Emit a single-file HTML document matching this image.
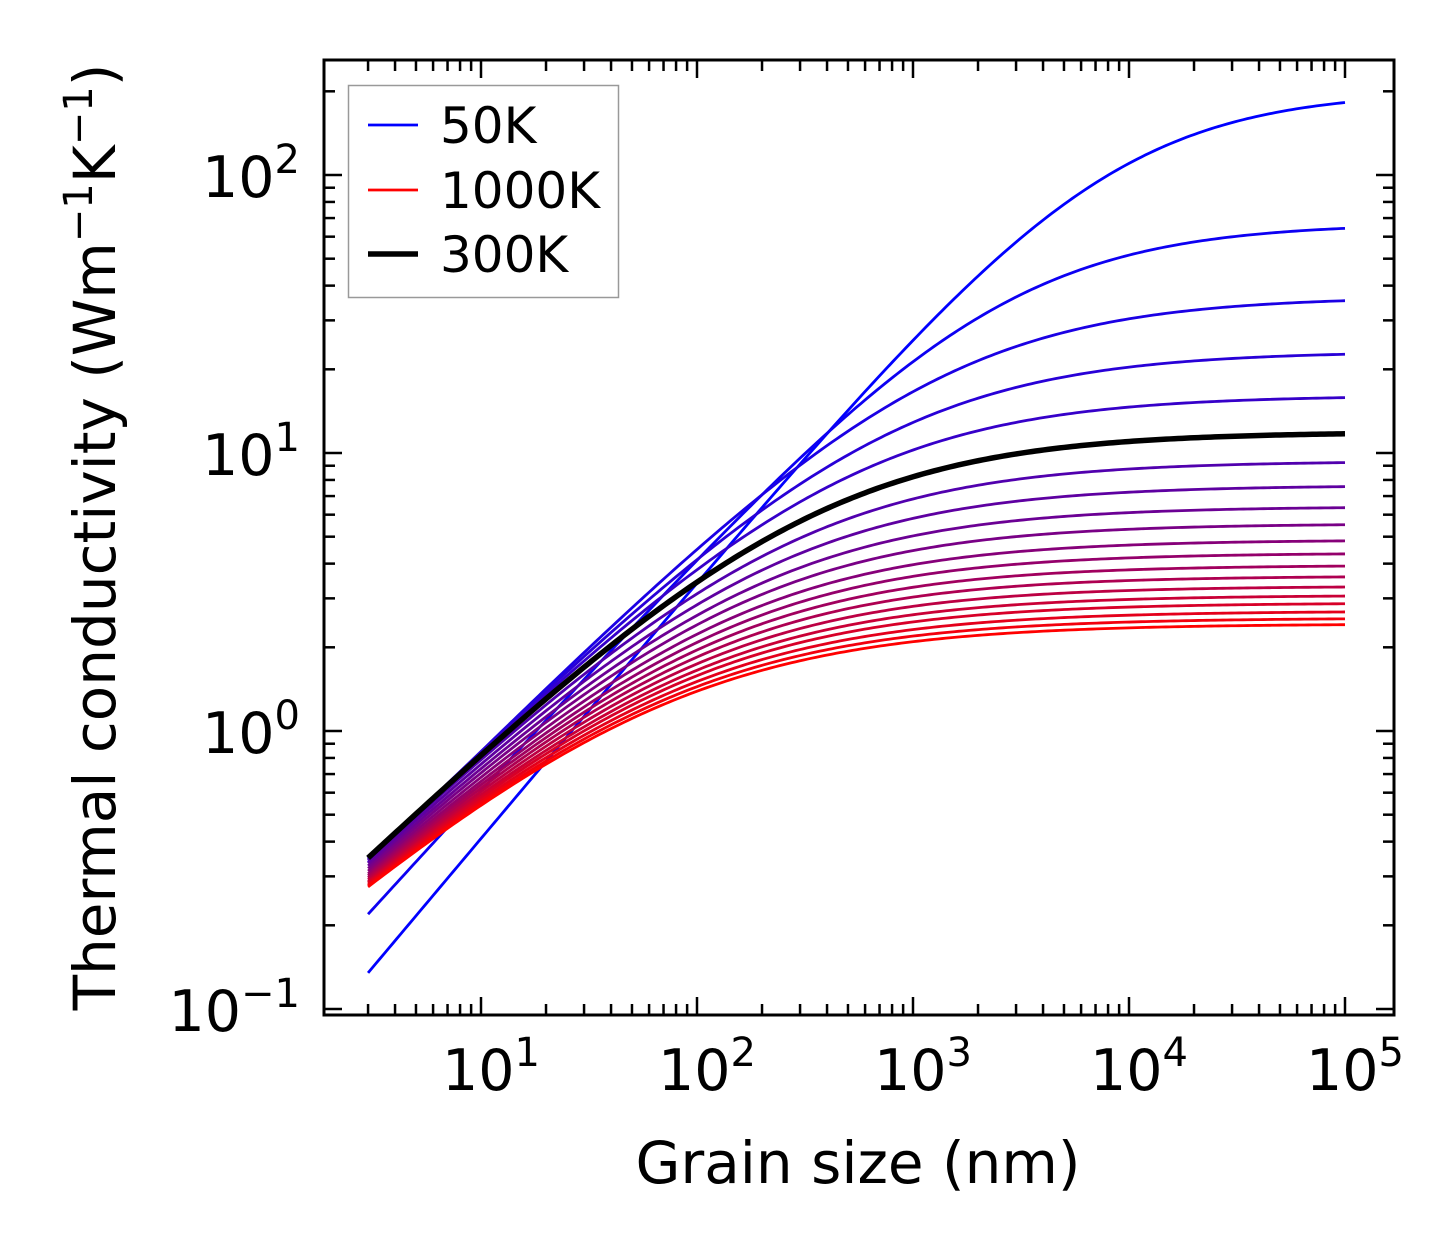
<!DOCTYPE html>
<html><head><meta charset="utf-8"><style>
html,body{margin:0;padding:0;background:#fff;}
svg text{font-family:"DejaVu Sans","Liberation Sans",sans-serif;fill:#000;}
</style></head><body>
<svg id="chart" width="1454" height="1254" viewBox="0 0 1454 1254" xmlns="http://www.w3.org/2000/svg">
<g id="curves"></g>
<g id="ticks"></g>
<rect x="324" y="60" width="1070" height="955" fill="none" stroke="#000" stroke-width="3"/>
<g id="xlabels"></g>
<g id="ylabels"></g>
<text x="858" y="1183" font-size="58" text-anchor="middle">Grain size (nm)</text>
<text transform="translate(115,537) rotate(-90)" font-size="58" text-anchor="middle">Thermal conductivity (Wm<tspan font-size="40" dy="-23">−1</tspan><tspan dy="23">K</tspan><tspan font-size="40" dy="-23">−1</tspan><tspan dy="23">)</tspan></text>
<g>
<rect x="348.5" y="85.5" width="270" height="212" fill="#fff" stroke="#999" stroke-width="1.5"/>
<line x1="368" y1="125" x2="418" y2="125" stroke="#0000ff" stroke-width="2.8"/>
<text x="440" y="143" font-size="50">50K</text>
<line x1="368" y1="190" x2="418" y2="190" stroke="#ff0000" stroke-width="2.8"/>
<text x="440" y="208" font-size="50">1000K</text>
<line x1="368" y1="254" x2="418" y2="254" stroke="#000" stroke-width="5.5"/>
<text x="440" y="272" font-size="50">300K</text>
</g>
</svg>
<script>
const temperatures = [50,100,150,200,250,300,350,400,450,500,550,600,650,700,750,800,850,900,950,1000];
const kBulk = [200,67,36.5,23.2,16.1,11.9,9.35,7.65,6.42,5.57,4.87,4.37,3.95,3.61,3.32,3.08,2.89,2.70,2.55,2.43];
const kSmall = [0.135,0.22,0.34,0.35,0.355,0.36,0.355,0.35,0.345,0.34,0.335,0.33,0.327,0.324,0.321,0.318,0.316,0.314,0.312,0.31];
const slopeSmall = [0.925,0.853,0.774,0.76,0.753,0.74,0.735,0.73,0.725,0.72,0.715,0.71,0.705,0.70,0.695,0.69,0.685,0.68,0.675,0.67];
const grainMin = 3, grainMax = 1e5;
const xTickExps = [1,2,3,4,5];
const yTickExps = [-1,0,1,2];
const highlightT = 300;

const NS = "http://www.w3.org/2000/svg";
const L = 324, R = 1394, T = 60, B = 1015;
function xs(v){ return 481 + 216*(Math.log10(v)-1); }
function ys(v){ return 453 - 278*(Math.log10(v)-1); }
function kappa(i, d){ const lim = kSmall[i]*Math.pow(d/grainMin, slopeSmall[i]); return 1/(1/kBulk[i] + 1/lim); }
function pathFor(i){
  let s = ""; const n = 240;
  for (let j=0;j<=n;j++){ const d = grainMin*Math.pow(grainMax/grainMin, j/n);
    s += (j?"L":"M") + xs(d).toFixed(2) + "," + ys(kappa(i,d)).toFixed(2); }
  return s;
}
const cg = document.getElementById("curves");
const nT = temperatures.length;
let hi = -1;
temperatures.forEach((t,i)=>{
  const f = i/(nT-1);
  const p = document.createElementNS(NS,"path");
  p.setAttribute("d", pathFor(i));
  p.setAttribute("fill","none");
  p.setAttribute("stroke", `rgb(${Math.round(255*f)},0,${Math.round(255*(1-f))})`);
  p.setAttribute("stroke-width","2.8");
  
  
  cg.appendChild(p);
  if (t === highlightT) hi = i;
});
if (hi >= 0){
  const p = document.createElementNS(NS,"path");
  p.setAttribute("d", pathFor(hi));
  p.setAttribute("fill","none");
  p.setAttribute("stroke","#000");
  p.setAttribute("stroke-width","5.5");
  
  
  cg.appendChild(p);
}
const tg = document.getElementById("ticks");
function tick(x1,y1,x2,y2,w){
  const l = document.createElementNS(NS,"line");
  l.setAttribute("x1",x1);l.setAttribute("y1",y1);l.setAttribute("x2",x2);l.setAttribute("y2",y2);
  l.setAttribute("stroke","#000");l.setAttribute("stroke-width",w);
  
  
  tg.appendChild(l);
}
for (let e=0;e<=5;e++) for (let m=1;m<=9;m++){
  const x = xs(m*Math.pow(10,e));
  if (x < L+8 || x > R-4) continue;
  const len = m===1 ? 18 : 11;
  tick(x,B,x,B-len,2.5); tick(x,T,x,T+len,2.5);
}
for (let e=-2;e<=2;e++) for (let m=1;m<=9;m++){
  const y = ys(m*Math.pow(10,e));
  if (y > B-3 || y < T+4) continue;
  const len = m===1 ? 18 : 11;
  tick(L,y,L+len,y,2.5); tick(R,y,R-len,y,2.5);
}
function powLabel(g, x, y, e, anchor, name){
  const t = document.createElementNS(NS,"text");
  t.setAttribute("x",x); t.setAttribute("y",y); t.setAttribute("font-size","57");
  t.setAttribute("text-anchor",anchor);
  t.innerHTML = `10<tspan font-size="40" dy="-24">${e<0?"−":""}${Math.abs(e)}</tspan>`;
  
  
  g.appendChild(t);
}
const xg = document.getElementById("xlabels");
xTickExps.forEach(e=>powLabel(xg, xs(Math.pow(10,e))+10, 1090, e, "middle", "x-tick-label"));
const yg = document.getElementById("ylabels");
yTickExps.forEach(e=>powLabel(yg, 300, ys(Math.pow(10,e))+22, e, "end", "y-tick-label"));
</script>
</body></html>
